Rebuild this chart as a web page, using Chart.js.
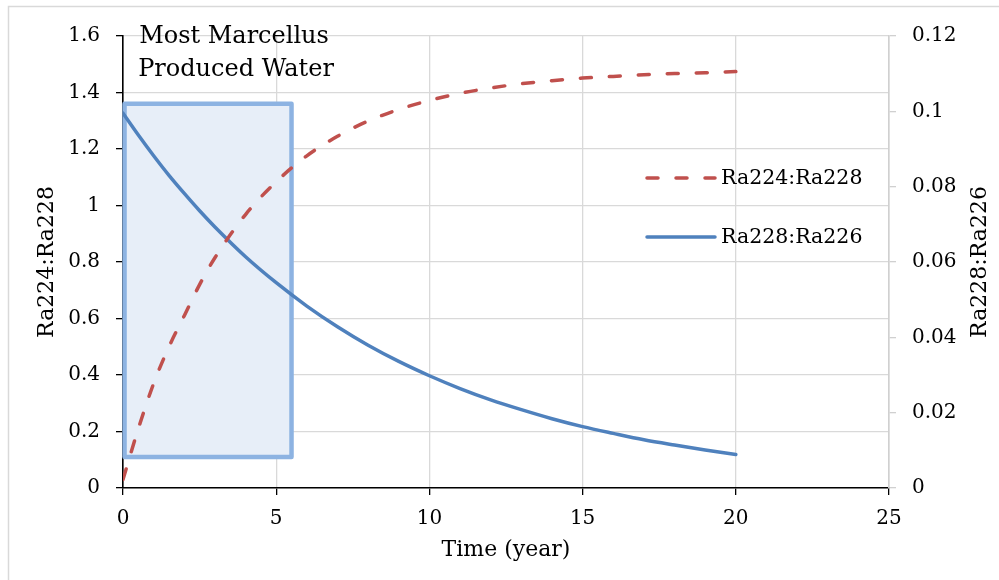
<!DOCTYPE html>
<html>
<head>
<meta charset="utf-8">
<script src="https://cdn.jsdelivr.net/npm/chart.js@4.4.1/dist/chart.umd.min.js"></script>
<style>
html,body{margin:0;padding:0;background:#fff;}
#wrap{position:relative;width:999px;height:580px;}
</style>
</head>
<body>
<div id="wrap"><canvas id="c" width="999" height="580"></canvas></div>
<script>
// ---- data ----
const years = [0, 0.5, 1, 1.5, 2, 2.5, 3, 4, 5, 6, 7, 8, 9, 10, 11, 12, 13, 14, 15, 16, 17, 18, 19, 20];
const ra224ra228 = [0.03, 0.21, 0.37, 0.50, 0.61, 0.72, 0.815, 0.968, 1.084, 1.176, 1.245, 1.299, 1.340, 1.372, 1.397, 1.416, 1.431, 1.442, 1.451, 1.457, 1.463, 1.467, 1.470, 1.474];
const ra228ra226 = [0.0995, 0.0937, 0.0882, 0.0830, 0.0782, 0.0736, 0.0693, 0.0614, 0.0545, 0.0483, 0.0428, 0.0379, 0.0336, 0.0298, 0.0264, 0.0234, 0.0208, 0.0184, 0.0163, 0.0145, 0.0128, 0.0114, 0.0101, 0.0089];
const seriesLabels = ['Ra224:Ra228', 'Ra228:Ra226'];
const xTickLabels = ['0', '5', '10', '15', '20', '25'];
const leftTickLabels = ['0', '0.2', '0.4', '0.6', '0.8', '1', '1.2', '1.4', '1.6'];
const rightTickLabels = ['0', '0.02', '0.04', '0.06', '0.08', '0.1', '0.12'];
const xTitle = 'Time (year)';
const leftTitle = 'Ra224:Ra228';
const rightTitle = 'Ra228:Ra226';
const noteLines = ['Most Marcellus', 'Produced Water'];
const boxX = [0.05, 5.5];     // years
const boxY = [0.11, 1.36];    // left-axis units

const FONT = "'DejaVu Serif', serif";
const RED = '#c0504d', BLUE = '#4f81bd';

const pts = (xs, ys) => xs.map((x, i) => ({x: x, y: ys[i]}));

const decor = {
  id: 'decor',
  beforeDraw(chart) {
    const ctx = chart.ctx;
    ctx.save();
    ctx.fillStyle = '#fff';
    ctx.fillRect(0, 0, chart.width, chart.height);
    ctx.strokeStyle = '#d9d9d9';
    ctx.lineWidth = 1.5;
    ctx.beginPath();
    ctx.moveTo(8.5, chart.height + 5);
    ctx.lineTo(8.5, 6.5);
    ctx.lineTo(chart.width + 5, 6.5);
    ctx.stroke();
    ctx.restore();
  },
  beforeDatasetsDraw(chart) {
    const ctx = chart.ctx, xs = chart.scales.x, ys = chart.scales.y;
    const x0 = xs.getPixelForValue(boxX[0]), x1 = xs.getPixelForValue(boxX[1]);
    const y0 = ys.getPixelForValue(boxY[1]), y1 = ys.getPixelForValue(boxY[0]);
    ctx.save();
    ctx.fillStyle = '#e7eef8';
    ctx.fillRect(x0, y0, x1 - x0, y1 - y0);
    ctx.strokeStyle = '#8db3e2';
    ctx.lineWidth = 4.5;
    ctx.lineJoin = 'round';
    ctx.strokeRect(x0, y0, x1 - x0, y1 - y0);
    ctx.restore();
  },
  afterDraw(chart) {
    const ctx = chart.ctx;
    ctx.save();
    // annotation text
    ctx.fillStyle = '#000';
    ctx.font = "24px " + FONT;
    ctx.textAlign = 'center';
    ctx.textBaseline = 'alphabetic';
    ctx.fillText(noteLines[0], 234, 43);
    ctx.fillText(noteLines[1], 236, 76);
    // legend
    const items = chart.data.datasets;
    const ly = [178, 237];
    items.forEach((ds, i) => {
      ctx.strokeStyle = ds.borderColor;
      ctx.lineWidth = ds.borderWidth;
      ctx.setLineDash(ds.borderDash || []);
      ctx.lineCap = ds.borderCapStyle || 'butt';
      ctx.beginPath();
      ctx.moveTo(647, ly[i]);
      ctx.lineTo(715, ly[i]);
      ctx.stroke();
      ctx.setLineDash([]);
      ctx.fillStyle = '#000';
      ctx.font = "20.5px " + FONT;
      ctx.textAlign = 'left';
      ctx.textBaseline = 'middle';
      ctx.fillText(ds.label, 721, ly[i] + 1);
    });
    // right axis title (reads bottom-to-top)
    ctx.translate(980, chart.chartArea.top + (chart.chartArea.bottom - chart.chartArea.top) / 2);
    ctx.rotate(-Math.PI / 2);
    ctx.font = "22px " + FONT;
    ctx.textAlign = 'center';
    ctx.textBaseline = 'middle';
    ctx.fillText(rightTitle, 0, 0);
    ctx.restore();
  }
};

new Chart(document.getElementById('c'), {
  type: 'line',
  data: {
    datasets: [
      {
        label: seriesLabels[0],
        data: pts(years, ra224ra228),
        yAxisID: 'y',
        borderColor: RED,
        borderWidth: 3.5,
        borderDash: [11, 18],
        borderCapStyle: 'round',
        pointRadius: 0,
        fill: false,
        cubicInterpolationMode: 'monotone'
      },
      {
        label: seriesLabels[1],
        data: pts(years, ra228ra226),
        yAxisID: 'y1',
        borderColor: BLUE,
        borderWidth: 3.5,
        borderCapStyle: 'round',
        pointRadius: 0,
        fill: false,
        cubicInterpolationMode: 'monotone'
      }
    ]
  },
  options: {
    responsive: false,
    animation: false,
    devicePixelRatio: 1,
    layout: {padding: {top: 36, left: 0, right: 0, bottom: 0}},
    plugins: {legend: {display: false}, tooltip: {enabled: false}},
    scales: {
      x: {
        type: 'linear',
        min: 0, max: 25,
        ticks: {stepSize: 5, color: '#000', font: {family: FONT, size: 20}, padding: 12,
          callback: (v, i) => xTickLabels[i]},
        grid: {color: '#d9d9d9', lineWidth: 1.3, tickColor: '#000', tickLength: 7},
        border: {color: '#000', width: 1.6},
        title: {display: true, text: xTitle, color: '#000', font: {family: FONT, size: 22}, padding: {top: 0, bottom: 17}},
        afterFit: s => { s.height = 92; }
      },
      y: {
        position: 'left',
        min: 0, max: 1.6,
        ticks: {stepSize: 0.2, color: '#000', font: {family: FONT, size: 20}, padding: 16,
          callback: (v, i) => leftTickLabels[i]},
        grid: {color: '#d9d9d9', lineWidth: 1.3, tickColor: '#000', tickLength: 7},
        border: {color: '#000', width: 1.6},
        title: {display: true, text: leftTitle, color: '#000', font: {family: FONT, size: 22}, padding: {top: 34, bottom: 0}},
        afterFit: s => { s.width = 123; }
      },
      y1: {
        position: 'right',
        min: 0, max: 0.12,
        ticks: {stepSize: 0.02, color: '#000', font: {family: FONT, size: 20}, padding: 16,
          callback: (v, i) => rightTickLabels[i]},
        grid: {drawOnChartArea: false, color: '#d0d0d0', lineWidth: 1.3, tickColor: '#d0d0d0', tickLength: 7},
        border: {color: '#d0d0d0', width: 1.6},
        afterFit: s => { s.width = 110; }
      }
    }
  },
  plugins: [decor]
});
</script>
</body>
</html>
